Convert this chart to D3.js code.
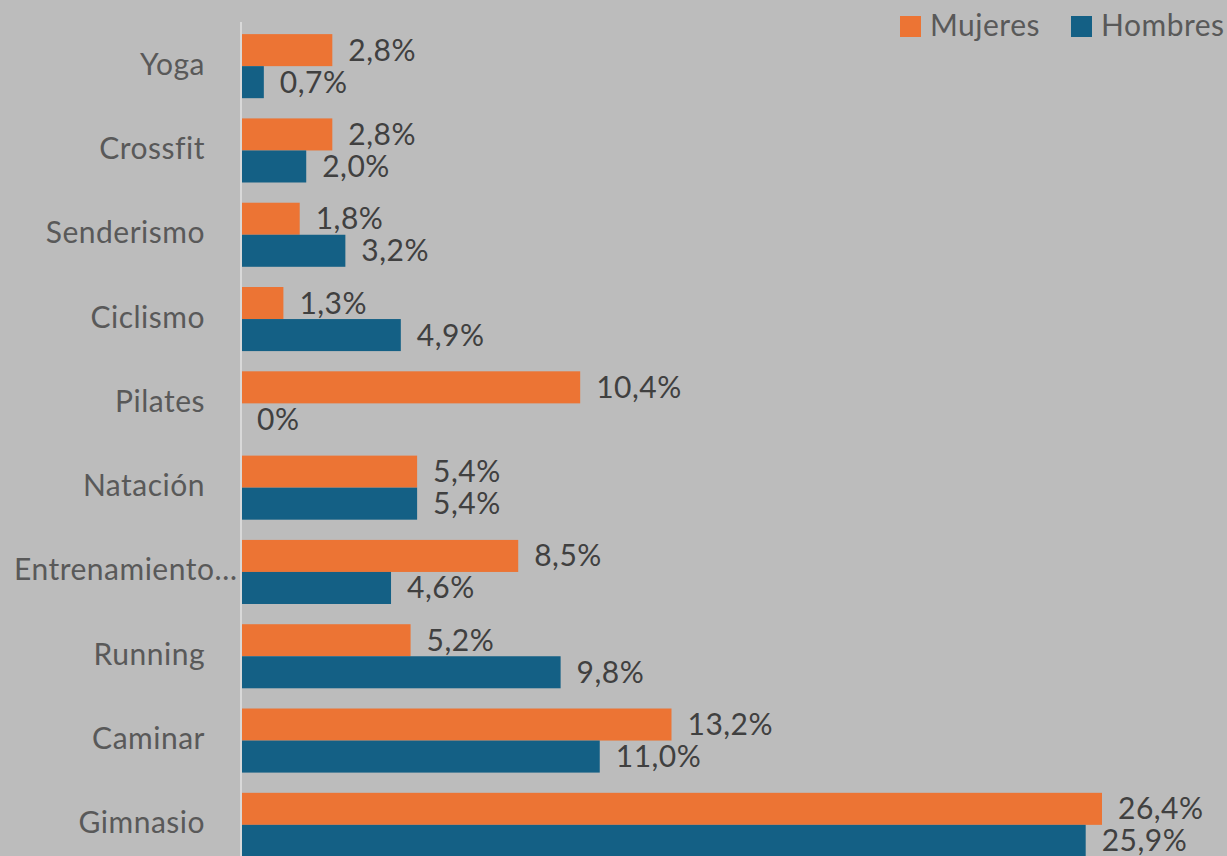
<!DOCTYPE html>
<html>
<head>
<meta charset="utf-8">
<script src="https://cdn.jsdelivr.net/npm/d3@7"></script>
<style>
  body { margin: 0; background: #bcbcbc; overflow: hidden; }
  svg { display: block; font-family: "Lato", "Open Sans", sans-serif; }
</style>
</head>
<body>
<svg width="1227" height="856"></svg>
<script>
var categories = ["Yoga", "Crossfit", "Senderismo", "Ciclismo", "Pilates", "Natación",
                  "Entrenamiento…", "Running", "Caminar", "Gimnasio"];
var mujeres = [2.8, 2.8, 1.8, 1.3, 10.4, 5.4, 8.5, 5.2, 13.2, 26.4];
var hombres = [0.7, 2.0, 3.2, 4.9, 0, 5.4, 4.6, 9.8, 11.0, 25.9];
var seriesNames = ["Mujeres", "Hombres"];
var colors = ["#ec7434", "#146085"];

var svg = d3.select("svg"),
    width = +svg.attr("width"),
    height = +svg.attr("height");

svg.append("rect").attr("width", width).attr("height", height).attr("fill", "#bcbcbc");

var x = d3.scaleLinear().domain([0, 26.4]).range([241, 1102]);
var y = d3.scaleBand().domain(categories).range([24, 867]).paddingInner(0.24).paddingOuter(0.12);
var ySub = d3.scaleBand().domain(seriesNames).range([0, y.bandwidth()]);

var fmt = function(v) { return v === 0 ? "0%" : v.toFixed(1).replace(".", ",") + "%"; };

// axis line
svg.append("line")
  .attr("x1", x(0)).attr("x2", x(0))
  .attr("y1", 22).attr("y2", height)
  .attr("stroke", "#d9d9d9").attr("stroke-width", 2);

var rows = categories.map(function(c, i) {
  return { cat: c, vals: [mujeres[i], hombres[i]] };
});

var g = svg.selectAll("g.cat").data(rows).enter().append("g")
  .attr("class", "cat")
  .attr("transform", function(d) { return "translate(0," + y(d.cat) + ")"; });

seriesNames.forEach(function(s, si) {
  g.append("rect")
    .attr("x", x(0) + 1)
    .attr("y", ySub(s))
    .attr("width", function(d) { return Math.max(0, x(d.vals[si]) - x(0) - 1); })
    .attr("height", ySub.bandwidth())
    .attr("fill", colors[si]);

  g.append("text")
    .attr("x", function(d) { return x(d.vals[si]) + 16; })
    .attr("y", ySub(s) + ySub.bandwidth() / 2)
    .attr("dy", "0.35em")
    .attr("font-size", 30)
    .attr("letter-spacing", 0.5)
    .attr("fill", "#404040")
    .text(function(d) { return fmt(d.vals[si]); });
});

// category labels (truncated long label overflows to the right like the original)
g.append("text")
  .attr("x", 205)
  .attr("y", y.bandwidth() / 2 - 2)
  .attr("dy", "0.35em")
  .attr("text-anchor", "end")
  .attr("font-size", 30)
  .attr("letter-spacing", 0.5)
  .attr("fill", "#595959")
  .text(function(d) { return d.cat; })
  .each(function() {
    var b = this.getBBox();
    if (b.x < 14) d3.select(this).attr("text-anchor", "start").attr("x", 14);
  });

// legend
var legend = svg.append("g");
var legendX = [900, 1071];
seriesNames.forEach(function(s, i) {
  legend.append("rect")
    .attr("x", legendX[i]).attr("y", 16)
    .attr("width", 21).attr("height", 21)
    .attr("fill", colors[i]);
  legend.append("text")
    .attr("x", legendX[i] + 30).attr("y", 25)
    .attr("dy", "0.35em")
    .attr("font-size", 30)
    .attr("letter-spacing", 0.5)
    .attr("fill", "#595959")
    .text(s);
});
</script>
</body>
</html>
